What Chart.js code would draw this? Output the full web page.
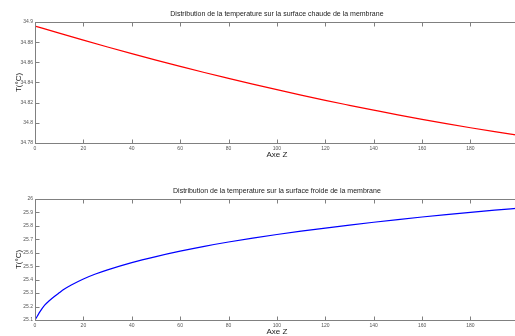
<!DOCTYPE html>
<html>
<head>
<meta charset="utf-8">
<script src="https://cdn.jsdelivr.net/npm/chart.js@4"></script>
<style>
  html, body { margin: 0; padding: 0; background: #fff; overflow: hidden; width: 515px; height: 336px; }
  .panel { position: absolute; left: 0; }
  canvas { display: block; }
</style>
</head>
<body>
<div class="panel" style="top:0"><canvas id="hot" width="526" height="170"></canvas></div>
<div class="panel" style="top:177px"><canvas id="cold" width="526" height="170"></canvas></div>
<script>
// Position along the membrane (Axe Z)
const zHot = [0, 10, 20, 30, 40, 50, 60, 70, 80, 90, 100, 110, 120, 130, 140, 150, 160, 170, 180, 190, 200];
// Temperature on the hot side (°C)
const tHot = [34.8960, 34.8889, 34.8820, 34.8752, 34.8686, 34.8622, 34.8560, 34.8499, 34.8441, 34.8384, 34.8329,
              34.8275, 34.8223, 34.8174, 34.8126, 34.8079, 34.8035, 34.7992, 34.7951, 34.7912, 34.7876];

const zCold = [0, 1, 2, 4, 6, 8, 10, 12, 15, 20, 25, 30, 40, 50, 60, 70, 80, 90, 100,
               110, 120, 130, 140, 150, 160, 170, 180, 190, 200];
// Temperature on the cold side (°C)
const tCold = [25.100, 25.130, 25.160, 25.210, 25.245, 25.275, 25.302, 25.328, 25.360, 25.405, 25.442,
               25.473, 25.527, 25.572, 25.612, 25.648, 25.680, 25.709, 25.736, 25.761, 25.784,
               25.806, 25.827, 25.847, 25.866, 25.884, 25.901, 25.917, 25.932];

const xTicks = [0, 20, 40, 60, 80, 100, 120, 140, 160, 180, 200];
const yTicksHot = [34.78, 34.8, 34.82, 34.84, 34.86, 34.88, 34.9];
const yTicksCold = [25.1, 25.2, 25.3, 25.4, 25.5, 25.6, 25.7, 25.8, 25.9, 26];

const titleHot = 'Distribution de la temperature sur la surface chaude de la membrane';
const titleCold = 'Distribution de la temperature sur la surface froide de la membrane';

Chart.defaults.font.family = "'Liberation Sans', Arial, sans-serif";
Chart.defaults.color = '#333';

const AXIS = '#808080';

// Box around the plot with short tick marks pointing inward on every side
const frameTicks = {
  id: 'frameTicks',
  afterDraw(chart) {
    const { ctx, chartArea: a, scales: { x, y } } = chart;
    const L = 4;
    ctx.save();
    ctx.strokeStyle = AXIS;
    ctx.lineWidth = 1;
    const seg = (x1, y1, x2, y2) => { ctx.beginPath(); ctx.moveTo(x1, y1); ctx.lineTo(x2, y2); ctx.stroke(); };
    const l = Math.round(a.left) + 0.5, r = Math.round(a.right) + 0.5;
    const t = Math.round(a.top) + 0.5, b = Math.round(a.bottom) + 0.5;
    ctx.strokeRect(l, t, r - l, b - t);
    x.ticks.forEach(tk => {
      const px = Math.round(x.getPixelForValue(tk.value)) + 0.5;
      seg(px, b, px, b - L);
      seg(px, t, px, t + L);
    });
    y.ticks.forEach(tk => {
      const py = Math.round(y.getPixelForValue(tk.value)) + 0.5;
      seg(l, py, l + L, py);
      seg(r, py, r - L, py);
    });
    ctx.restore();
  }
};

function makeChart(id, xs, ys, color, title, yMin, yMax, yTicks) {
  return new Chart(document.getElementById(id), {
    type: 'line',
    data: {
      datasets: [{
        data: xs.map((z, i) => ({ x: z, y: ys[i] })),
        borderColor: color,
        borderWidth: 1.2,
        pointRadius: 0,
        fill: false,
        cubicInterpolationMode: 'monotone'
      }]
    },
    options: {
      responsive: false,
      animation: false,
      devicePixelRatio: 1,
      layout: { padding: { left: 0, right: 5, top: 0, bottom: 0 } },
      plugins: {
        legend: { display: false },
        tooltip: { enabled: false },
        title: {
          display: true,
          text: title,
          fullSize: false,
          color: '#222',
          font: { size: 7, lineHeight: 1, weight: 'normal' },
          padding: { top: 11, bottom: 4 }
        }
      },
      scales: {
        x: {
          type: 'linear',
          min: 0, max: 200,
          afterBuildTicks: s => { s.ticks = xTicks.map(v => ({ value: v })); },
          afterFit: s => { s.height = 27; },
          grid: { display: false, drawTicks: false },
          border: { display: false },
          ticks: { font: { size: 5 }, color: '#555', padding: 3, maxRotation: 0, autoSkip: false },
          title: { display: true, text: 'Axe Z', color: '#222', font: { size: 8, lineHeight: 1.2 }, padding: { top: 0, bottom: 10.7 } }
        },
        y: {
          type: 'linear',
          min: yMin, max: yMax,
          afterBuildTicks: s => { s.ticks = yTicks.map(v => ({ value: v })); },
          afterFit: s => { s.width = 35; },
          grid: { display: false, drawTicks: false },
          border: { display: false },
          ticks: { font: { size: 5 }, color: '#555', padding: 2, autoSkip: false, callback: v => String(parseFloat(v.toFixed(2))) },
          title: { display: true, text: 'T(°C)', color: '#222', font: { size: 8, lineHeight: 1.2 }, padding: { top: 14, bottom: 0 } }
        }
      }
    },
    plugins: [frameTicks]
  });
}

makeChart('hot', zHot, tHot, '#ff0000', titleHot, 34.78, 34.9, yTicksHot);
makeChart('cold', zCold, tCold, '#0000ff', titleCold, 25.1, 26, yTicksCold);
</script>
</body>
</html>
